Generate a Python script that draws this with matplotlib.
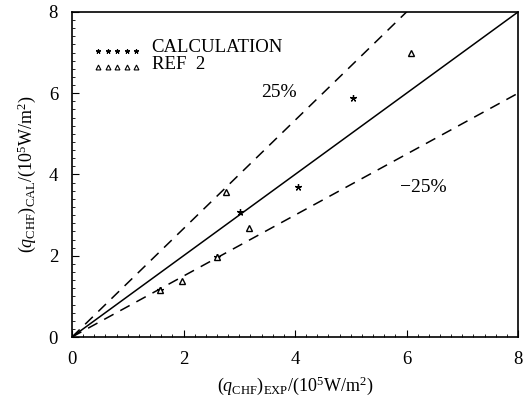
import numpy as np
from matplotlib import pyplot as plt
from matplotlib.ticker import MultipleLocator

plt.rcParams['font.family'] = ['Liberation Serif', 'DejaVu Serif']
plt.rcParams['mathtext.fontset'] = 'custom'
plt.rcParams['mathtext.rm'] = 'Liberation Serif'
plt.rcParams['mathtext.it'] = 'Liberation Serif:italic'

calc_x = [1.58, 2.60, 3.02, 4.05, 5.04]
calc_y = [1.16, 1.97, 3.08, 3.69, 5.88]
ref_x = [1.58, 1.98, 2.60, 2.76, 3.18, 6.08]
ref_y = [1.16, 1.37, 1.97, 3.56, 2.68, 7.00]

line_x = np.array([0, 8])
upper_factor = 1 / 0.75
lower_factor = 0.75

fig = plt.figure(figsize=(5.26, 4.04), dpi=100)
ax = fig.add_axes([72 / 526, 1 - 337 / 404, 446 / 526, 325 / 404])

ax.plot(line_x, line_x, color='black', lw=1.1)
ax.plot(line_x, line_x * upper_factor, color='black', lw=1.1, dashes=(7, 5))
ax.plot(line_x, line_x * lower_factor, color='black', lw=1.1, dashes=(7, 5))

ax.plot(calc_x, calc_y, ls='none', marker=(5, 2, 0), ms=5, color='black', mew=0.9)
ax.plot(ref_x, ref_y, ls='none', marker='^', ms=5, mfc='white', mec='black', mew=1.0)

# legend drawn as rows of small markers
key_x = [0.47, 0.64, 0.81, 0.98, 1.15]
ax.plot(key_x, [7.05] * 5, ls='none', marker=(5, 2, 0), ms=3.5, color='black', mew=0.8)
ax.plot(key_x, [6.64] * 5, ls='none', marker='^', ms=3.5, mfc='white', mec='black', mew=0.8)
ax.text(1.43, 7.12, 'CALCULATION', fontsize=13.5, va='center')
ax.text(1.43, 6.70, 'REF  2', fontsize=13.5, va='center')

ax.text(3.40, 6.02, '25%', fontsize=14, va='center')
ax.text(5.88, 3.69, '\u221225%', fontsize=14, va='center')

ax.set_xlim(0, 8)
ax.set_ylim(0, 8)
ax.xaxis.set_major_locator(MultipleLocator(2))
ax.yaxis.set_major_locator(MultipleLocator(2))
ax.xaxis.set_minor_locator(MultipleLocator(0.2))
ax.yaxis.set_minor_locator(MultipleLocator(0.2))
ax.tick_params(which='both', direction='in', top=False, right=False, labelsize=13.5)
ax.tick_params(axis='x', which='major', pad=10)
ax.tick_params(axis='y', which='major', pad=10)
ax.tick_params(which='major', length=5)
ax.tick_params(which='minor', length=2.5)
for s in ax.spines.values():
    s.set_linewidth(1.2)

ax.set_xlabel(r'$(q_{\rm CHF})_{\rm EXP}/(10^5{\rm W/m^2})$', fontsize=13, labelpad=5)
ax.set_ylabel(r'$(q_{\rm CHF})_{\rm CAL}/(10^5{\rm W/m^2})$', fontsize=13, labelpad=8)

fig.savefig('out.png', dpi=100)
